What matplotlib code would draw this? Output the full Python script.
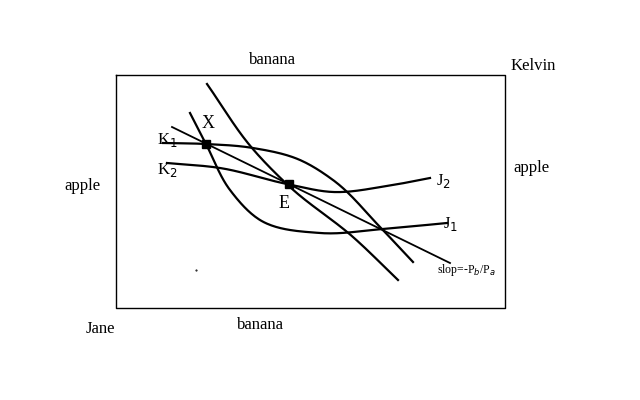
import matplotlib
matplotlib.use("Agg")
import matplotlib.pyplot as plt
from matplotlib.path import Path
from matplotlib.patches import PathPatch
import numpy as np

plt.rcParams['font.family'] = ['Liberation Serif', 'DejaVu Serif']

# Diagram curves in pixel space of the original image
box = [116, 75, 505, 308]
k1_x = [163, 206, 253, 300, 333, 380, 413]
k1_y = [143, 144, 148, 160, 180, 227, 262]
k2j2_x = [167, 220, 287, 333, 387, 430]
k2j2_y = [163, 168, 184, 192, 186, 178]
j1_x = [190, 206, 230, 260, 320, 383, 447]
j1_y = [113, 144, 190, 220, 233, 229, 223]
steep_x = [207, 252, 290, 353, 398]
steep_y = [84, 148, 187, 237, 280]
slope_x = [172, 450]
slope_y = [127, 263]
pts_x = [206, 289]
pts_y = [144, 184]

def smooth(xs, ys, n=200):
    xs = np.asarray(xs, float); ys = np.asarray(ys, float)
    t = np.r_[0, np.cumsum(np.hypot(np.diff(xs), np.diff(ys)))]
    tt = np.linspace(0, t[-1], n)
    from numpy.polynomial import polynomial as P
    # Catmull-Rom style via piecewise cubic hermite
    def interp(v):
        m = np.gradient(v, t)
        out = np.empty_like(tt)
        for i, s in enumerate(tt):
            k = min(np.searchsorted(t, s, side='right') - 1, len(t) - 2)
            h = t[k+1] - t[k]; u = (s - t[k]) / h
            h00 = 2*u**3 - 3*u**2 + 1; h10 = u**3 - 2*u**2 + u
            h01 = -2*u**3 + 3*u**2; h11 = u**3 - u**2
            out[i] = h00*v[k] + h10*h*m[k] + h01*v[k+1] + h11*h*m[k+1]
        return out
    return interp(xs), interp(ys)

fig = plt.figure(figsize=(6.4, 4.0), dpi=100)
ax = fig.add_axes([0, 0, 1, 1])
ax.set_xlim(0, 640); ax.set_ylim(400, 0); ax.axis('off')

ax.plot([box[0], box[2], box[2], box[0], box[0]], [box[1], box[1], box[3], box[3], box[1]], color='black', lw=1)
for xs, ys in [(k1_x, k1_y), (k2j2_x, k2j2_y), (j1_x, j1_y), (steep_x, steep_y)]:
    sx, sy = smooth(xs, ys)
    ax.plot(sx, sy, color='black', lw=1.6)
ax.plot(slope_x, slope_y, color='black', lw=1.3)
ax.plot(pts_x, pts_y, 's', color='black', ms=6)
ax.plot([196], [270], '.', color='black', ms=1)

fs = 12
ax.text(272, 60, 'banana', fontsize=fs, ha='center', va='center')
ax.text(260, 325, 'banana', fontsize=fs, ha='center', va='center')
ax.text(82, 186, 'apple', fontsize=fs, ha='center', va='center')
ax.text(531, 168, 'apple', fontsize=fs, ha='center', va='center')
ax.text(533, 66, 'Kelvin', fontsize=fs, ha='center', va='center')
ax.text(100, 329, 'Jane', fontsize=fs, ha='center', va='center')
ax.text(208, 124, 'X', fontsize=13, ha='center', va='center')
ax.text(284, 204, 'E', fontsize=13, ha='center', va='center')
ax.text(167, 140, 'K$_1$', fontsize=fs, ha='center', va='center')
ax.text(167, 170, 'K$_2$', fontsize=fs, ha='center', va='center')
ax.text(443, 181, 'J$_2$', fontsize=fs, ha='center', va='center')
ax.text(451, 224, 'J$_1$', fontsize=fs, ha='center', va='center')
ax.text(466, 270, 'slop=-P$_b$/P$_a$', fontsize=8.5, ha='center', va='center')

fig.savefig('out.png', dpi=100)
